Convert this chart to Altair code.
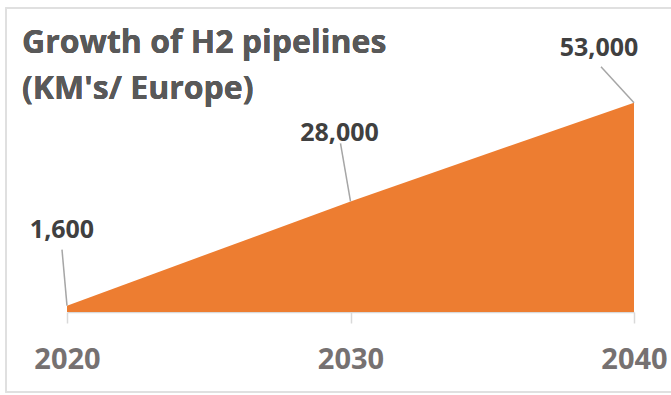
import altair as alt
import pandas as pd

years = [2020, 2030, 2040]
km = [1600, 28000, 53000]
labels = ["1,600", "28,000", "53,000"]

# label / leader-line offsets (pixels, styling only)
label_dx = [-5, -11, -35]
label_dy = [-68, -60, -47]
leader_dx = [-5, -10, -33]
leader_dy = [-56, -58, -36]

df = pd.DataFrame({
    "year": years, "km": km, "label": labels,
    "ldx": label_dx, "ldy": label_dy, "rdx": leader_dx, "rdy": leader_dy,
})

W, H = 567, 312
XMIN, XMAX = 2020, 2040
YMAX = 79000
xs = alt.Scale(domain=[XMIN, XMAX], nice=False, zero=False)
ys = alt.Scale(domain=[0, YMAX], nice=False)

px_x = (XMAX - XMIN) / W   # years per pixel
px_y = YMAX / H            # km per pixel

x_axis = alt.Axis(
    values=years, format="d", title=None, grid=False,
    domainColor="#d9d9d9", domainWidth=1.5, tickColor="#d9d9d9", tickWidth=1.5,
    tickSize=11, labelFont="Open Sans", labelFontWeight="bold", labelFontSize=29,
    labelColor="#767171", labelPadding=45, labelBaseline="alphabetic",
    labelAlign="center", labelFlush=False, labelOverlap=False,
)

base = alt.Chart(df).transform_calculate(
    lx=f"datum.year + datum.ldx * {px_x}",
    ly=f"datum.km - datum.ldy * {px_y}",
    rx=f"datum.year + datum.rdx * {px_x}",
    ry=f"datum.km - datum.rdy * {px_y}",
)

area = alt.Chart(df).mark_area(color="#ED7D31", opacity=1).encode(
    x=alt.X("year:Q", scale=xs, axis=x_axis),
    y=alt.Y("km:Q", scale=ys, axis=None),
)

leader = base.mark_rule(color="#a6a6a6", strokeWidth=1.5).encode(
    x=alt.X("year:Q", scale=xs),
    y=alt.Y("km:Q", scale=ys),
    x2="rx:Q",
    y2="ry:Q",
)

text = base.mark_text(
    font="Open Sans", fontWeight="bold", fontSize=25, color="#404040",
    align="center", baseline="alphabetic",
).encode(
    x=alt.X("lx:Q", scale=xs),
    y=alt.Y("ly:Q", scale=ys),
    text="label:N",
)

title = alt.Chart(df).mark_text(
    text=["Growth of H2 pipelines", "(KM's/ Europe)"],
    font="Open Sans", fontWeight="bold", fontSize=32, color="#595959",
    align="left", baseline="alphabetic", lineHeight=46,
).encode(x=alt.value(-45), y=alt.value(53))

frame = alt.Chart(df).mark_rect(
    fill=None, stroke="#e0e0e0", strokeWidth=1.5
).encode(x=alt.value(-61), x2=alt.value(640), y=alt.value(8), y2=alt.value(392))

chart = alt.layer(frame, area, leader, text, title).properties(
    width=W, height=H,
    autosize=alt.AutoSizeParams(type="none"),
    padding={"left": 67, "top": 0, "right": 37, "bottom": 83},
    background="white",
).configure_view(stroke=None)

chart.save("out.html", embed_options={"renderer": "svg", "actions": False})
